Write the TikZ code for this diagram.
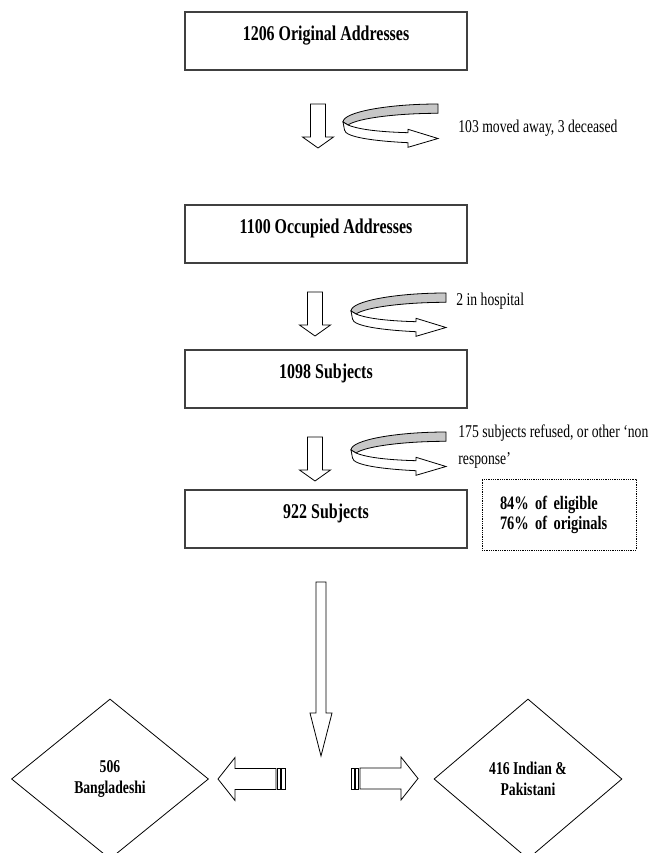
\documentclass[tikz,border=0pt]{standalone}
\usepackage{fontspec}
\setmainfont{Liberation Serif}[FakeStretch=0.76]
\usetikzlibrary{shapes.geometric}

\begin{document}
\begin{tikzpicture}
[x=1pt,y=-1pt,line width=.8pt,
 box/.style={draw=black!75,line width=1.3pt,minimum width=282pt,minimum height=58pt,inner sep=0pt,
   text height=14.5pt,text depth=15.5pt,font=\fontsize{21}{24}\selectfont\bfseries},
 side/.style={anchor=west,align=left,inner sep=0pt,font=\fontsize{18}{27}\selectfont},
 choice/.style={diamond,draw,minimum height=160pt,inner sep=0pt,align=center,
   font=\fontsize{18}{21}\selectfont\bfseries},
 downarrow/.pic={\draw[fill=white] (-7.5,0) -- (7.5,0) -- (7.5,33) -- (15.5,33) -- (0,44) -- (-15.5,33) -- (-7.5,33) -- cycle;},
 turnarrow/.pic={
   \draw[fill=black!22] (0,0) .. controls (-50,0) and (-95,8) .. (-95,18) -- (-90,21)
     .. controls (-80,14) and (-40,9.3) .. (0,9.3) -- cycle;
   \draw[fill=white] (-95,18) -- (-90,21) .. controls (-78,26) and (-55,28) .. (-30,28.7)
     -- (-30,25.3) -- (0,34.5) -- (-30,43.3) -- (-30,38.7)
     .. controls (-65,37) and (-93,33) .. (-93.5,26) -- cycle;},
 stripearrow/.pic={
   \draw[fill=white] (0,0) -- (-17,-21.5) -- (-17,-10.5) -- (-58,-10.5) -- (-58,10.5) -- (-17,10.5) -- (-17,21.5) -- cycle;
   \draw (-59.5,-10.5) rectangle (-62.5,10.5);
   \draw (-63.5,-10.5) rectangle (-67,10.5);}]
\clip (0,0) rectangle (656,853);
% boxes
\node[box] (orig) at (326,41) {1206 Original Addresses};
\node[box] (occ) at (326,234) {1100 Occupied Addresses};
\node[box] (subj) at (326,379) {1098 Subjects};
\node[box] (resp) at (326,519) {922 Subjects};
\node[draw,densely dotted,minimum width=154pt,minimum height=71pt,inner xsep=18pt,inner ysep=0pt,
  text width=118pt,align=left,font=\fontsize{19}{20}\selectfont\bfseries] (note) at (559,514.5)
  {84\% of eligible\\76\% of originals};
% losses
\node[side] (t1) at (458,128) {103 moved away, 3 deceased};
\node[side] (t2) at (456,301) {2 in hospital};
\node[side] (t3) at (458,447) {175 subjects refused, or other ‘non\\response’};
\pic at (318,104) {downarrow};
\pic at (315,292) {downarrow};
\pic at (315,437) {downarrow};
\pic at (438,104) {turnarrow};
\pic at (446,293) {turnarrow};
\pic at (446,432) {turnarrow};
% split
\draw[fill=white] (316,582) -- (326,582) -- (326,713) -- (332,713) -- (321,756) -- (310,713) -- (316,713) -- cycle;
\pic[xscale=-1] at (218,779) {stripearrow};
\pic at (418,778.5) {stripearrow};
\node[choice,minimum width=197pt] (bang) at (110,779) {506\\Bangladeshi};
\node[choice,minimum width=188pt] (indpak) at (528,779) {416 Indian \&\\Pakistani};
\end{tikzpicture}
\end{document}
